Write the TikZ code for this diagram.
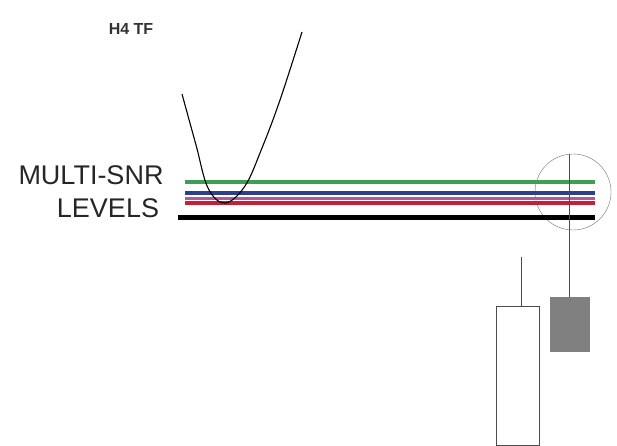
\documentclass[tikz,border=0pt]{standalone}
\usepackage{fontspec}
\setmainfont{Liberation Sans}

\definecolor{snrGreen}{RGB}{62,158,82}
\definecolor{snrBlue}{RGB}{44,62,140}
\definecolor{snrPink}{RGB}{190,80,160}
\definecolor{snrRed}{RGB}{192,32,58}
\definecolor{candleGray}{RGB}{128,128,128}

\begin{document}
\begin{tikzpicture}[x=1pt, y=-1pt,
  level/.style={line width=4pt},
  candle/.style={draw=black!70, line width=0.9pt, minimum width=43pt, inner sep=0pt}]
\useasboundingbox (0,0) rectangle (617,446);
%% Panel A: labels
\begin{scope}
  \node[font=\fontsize{16}{18}\selectfont\bfseries, text=black!80] (tf) at (131,29) {H4 TF};
  \node[font=\fontsize{27}{30}\selectfont, text=black!85] (multi) at (91,175) {MULTI-SNR};
  \node[font=\fontsize{27}{30}\selectfont, text=black!85] (lvls) at (108,208) {LEVELS};
\end{scope}
%% Panel B: support levels, zoom circle and price curve
\begin{scope}
  \node[draw=black!55, circle, minimum size=76pt, inner sep=0pt] (zoom) at (573,192) {};
  \draw[level, snrGreen] (185,182) -- (595,182);
  \draw[level, snrBlue] (185,193) -- (595,193);
  \draw[line width=3pt, snrPink] (185,198) -- (595,198);
  \draw[level, snrRed] (185,203) -- (595,203);
  \draw[line width=5pt, black] (178,217) -- (595,217);
  \draw[line width=1.1pt] plot[smooth, tension=0.6] coordinates
    {(182,94) (196,145) (208,188) (225,203) (245,186) (262,148) (280,100) (302,32)};
\end{scope}
%% Panel C: candles
\begin{scope}
  \node[candle, fill=white, minimum height=139pt, anchor=north] (bull) at (517.5,306) {};
  \coordinate (bullTop) at (521,257);
  \draw[black!70, line width=0.9pt] (bullTop) -- (bull.north -| bullTop);
  \node[candle, fill=candleGray, draw=candleGray, minimum width=39pt, minimum height=54pt, anchor=north] (bear) at (569.5,297) {};
  \draw[black!70, line width=0.9pt] (zoom.north -| bear.north) -- (bear.north);
\end{scope}
\end{tikzpicture}
\end{document}
